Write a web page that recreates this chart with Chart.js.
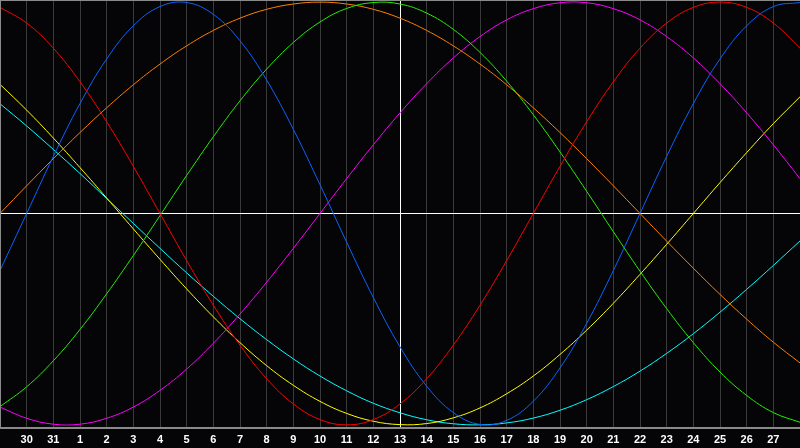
<!DOCTYPE html>
<html>
<head>
<meta charset="utf-8">
<script src="https://cdn.jsdelivr.net/npm/chart.js@4"></script>
<style>
  html, body { margin: 0; padding: 0; background: #050508; }
  canvas { display: block; }
</style>
</head>
<body>
<canvas id="bioChart" width="800" height="448"></canvas>
<script>
// Day labels along the bottom (first and last are not printed)
const days = ['29', '30', '31', '1', '2', '3', '4', '5', '6', '7', '8', '9', '10', '11', '12', '13',
  '14', '15', '16', '17', '18', '19', '20', '21', '22', '23', '24', '25', '26', '27', '28'];

// Cycle values, one per day (-1 .. 1)
const red = [0.975, 0.901, 0.782, 0.623, 0.434, 0.223, 0, -0.223, -0.434, -0.623, -0.782, -0.901, -0.975, -1,
  -0.975, -0.901, -0.782, -0.623, -0.434, -0.223, 0, 0.223, 0.434, 0.623, 0.782, 0.901, 0.975, 1, 0.975, 0.901, 0.782];
const blue = [-0.270, 0, 0.270, 0.520, 0.731, 0.888, 0.979, 0.998, 0.942, 0.817, 0.631, 0.398, 0.136, -0.136,
  -0.398, -0.631, -0.817, -0.942, -0.998, -0.979, -0.888, -0.731, -0.520, -0.270, 0, 0.270, 0.520, 0.731, 0.888, 0.979, 0.998];
const orange = [0, 0.131, 0.259, 0.383, 0.500, 0.609, 0.707, 0.793, 0.866, 0.924, 0.966, 0.991, 1, 0.991,
  0.966, 0.924, 0.866, 0.793, 0.707, 0.609, 0.500, 0.383, 0.259, 0.131, 0, -0.131, -0.259, -0.383, -0.500, -0.609, -0.707];
const green = [-0.914, -0.820, -0.697, -0.549, -0.380, -0.199, -0.010, 0.180, 0.363, 0.533, 0.683, 0.809, 0.906, 0.970,
  0.998, 0.991, 0.948, 0.871, 0.762, 0.626, 0.467, 0.291, 0.105, -0.086, -0.273, -0.450, -0.611, -0.750, -0.861, -0.942, -0.988];
const magenta = [-0.916, -0.969, -0.997, -0.997, -0.969, -0.916, -0.837, -0.736, -0.614, -0.476, -0.325, -0.165, 0, 0.165,
  0.325, 0.476, 0.614, 0.736, 0.837, 0.916, 0.969, 0.997, 0.997, 0.969, 0.916, 0.837, 0.736, 0.614, 0.476, 0.325, 0.165];
const yellow = [0.611, 0.489, 0.357, 0.217, 0.073, -0.073, -0.217, -0.357, -0.489, -0.611, -0.720, -0.813, -0.889, -0.946,
  -0.983, -0.999, -0.994, -0.967, -0.920, -0.853, -0.769, -0.667, -0.552, -0.425, -0.288, -0.146, 0, 0.146, 0.288, 0.425, 0.552];
const cyan = [0.519, 0.414, 0.303, 0.189, 0.071, -0.047, -0.165, -0.281, -0.392, -0.498, -0.597, -0.688, -0.769, -0.839,
  -0.898, -0.943, -0.976, -0.995, -1, -0.991, -0.968, -0.931, -0.881, -0.819, -0.746, -0.662, -0.569, -0.467, -0.359, -0.246, -0.130];

const todayLabel = '13';

function line(data, color) {
  return {
    data: data,
    borderColor: color,
    borderWidth: 1,
    pointRadius: 0,
    tension: 0.4,
    fill: false,
  };
}

// Gray frame on top and left of the plot
const framePlugin = {
  id: 'frame',
  afterDraw(chart) {
    const c = chart.ctx;
    const a = chart.chartArea;
    c.save();
    c.strokeStyle = '#8a8a8a';
    c.lineWidth = 1;
    c.beginPath();
    c.moveTo(a.left, a.top + 0.5);
    c.lineTo(a.right, a.top + 0.5);
    c.moveTo(a.left + 0.5, a.top);
    c.lineTo(a.left + 0.5, a.bottom);
    c.stroke();
    c.restore();
  }
};

const ctx = document.getElementById('bioChart').getContext('2d');
const bioChart = new Chart(ctx, {
  type: 'line',
  data: {
    labels: days,
    datasets: [
      line(red, '#ff0000'),
      line(blue, '#0a64ff'),
      line(orange, '#ff8000'),
      line(green, '#22f000'),
      line(magenta, '#ff00ff'),
      line(yellow, '#ffff00'),
      line(cyan, '#00ffff'),
    ]
  },
  options: {
    responsive: false,
    animation: false,
    devicePixelRatio: 1,
    layout: { padding: 0 },
    plugins: {
      legend: { display: false },
      tooltip: { enabled: false },
    },
    scales: {
      x: {
        offset: false,
        afterFit: (scale) => {
          scale.height = 20;
          scale.paddingLeft = 0;
          scale.paddingRight = 0;
        },
        grid: {
          drawTicks: false,
          lineWidth: 1,
          color: (c) => {
            if (c.index === 0) return '#8a8a8a';
            if (days[c.index] === todayLabel) return '#ffffff';
            return '#3a3a3a';
          },
        },
        border: { color: '#8a8a8a', width: 2 },
        ticks: {
          autoSkip: false,
          maxRotation: 0,
          padding: 5,
          color: '#ffffff',
          font: { family: 'Liberation Sans', size: 11, weight: 'bold' },
          callback: (v, i) => (i === 0 || i === days.length - 1) ? '' : days[i],
        },
      },
      y: {
        min: -1.015,
        max: 1.01,
        afterFit: (scale) => { scale.width = 0; },
        ticks: { display: false },
        border: { display: false },
        grid: {
          drawTicks: false,
          color: (c) => c.tick.value === 0 ? '#ffffff' : 'rgba(0,0,0,0)',
        },
        afterBuildTicks: (scale) => {
          scale.ticks = [{ value: 0 }];
        },
      },
    },
  },
  plugins: [framePlugin],
});
</script>
</body>
</html>
